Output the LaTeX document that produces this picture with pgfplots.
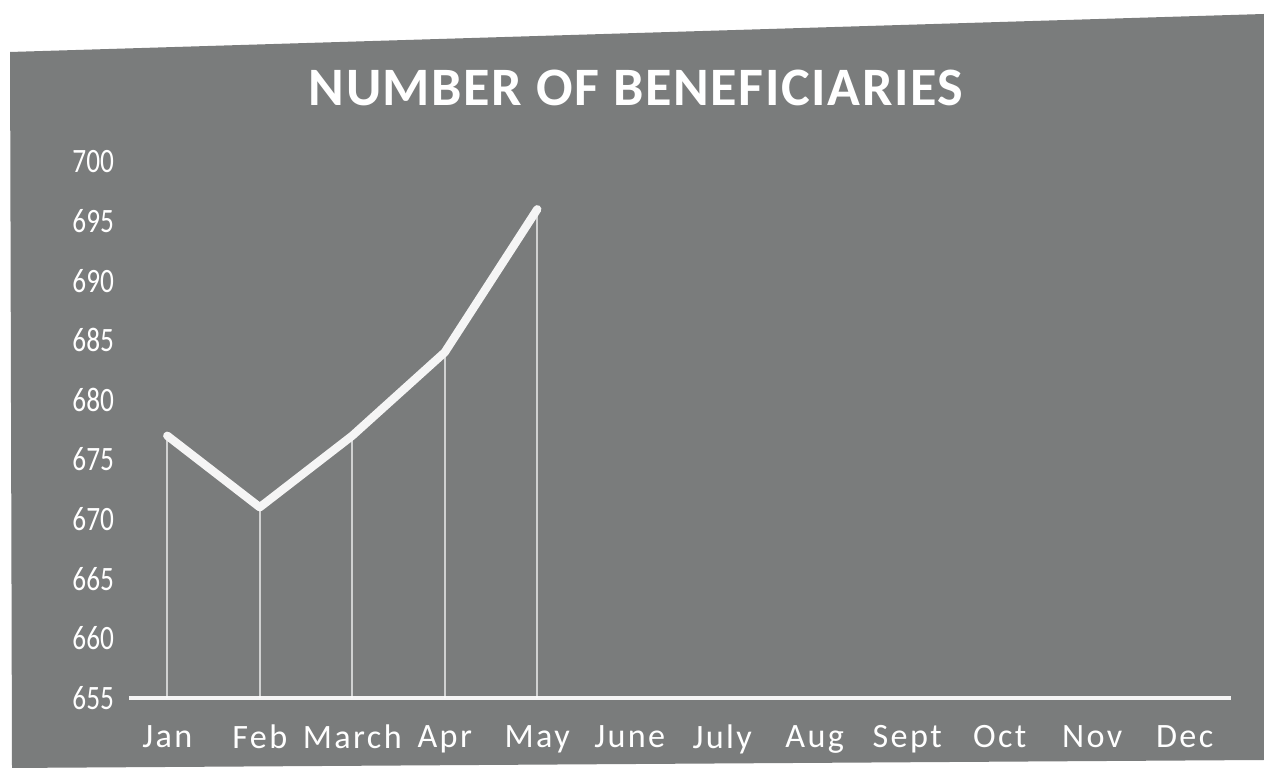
\documentclass[border=0pt]{standalone}
\usepackage{fontspec}
\setmainfont{Carlito}
\usepackage{pgfplots}
\pgfplotsset{compat=1.18}
\definecolor{bg}{RGB}{122,124,124}
\definecolor{ln}{RGB}{245,245,245}
\begin{document}
\begin{tikzpicture}
\path[use as bounding box, fill=white] (0,0) rectangle (16cm,9.848cm);
\fill[bg] (0.127cm,9.19cm) -- (16cm,9.671cm) -- (16cm,0.228cm) -- (0.152cm,0.127cm) -- cycle;
\node[text=white, font={\fontsize{19.5}{22}\selectfont\bfseries\addfontfeature{LetterSpace=3}}] at (8.05cm,8.73cm) {NUMBER OF BENEFICIARIES};
\begin{axis}[
  scale only axis,
  width=14.05cm, height=6.79cm,
  at={(1.532cm,1.013cm)}, anchor=south west,
  xmin=-0.5, xmax=11.5, ymin=655, ymax=700,
  xtick={0,...,11},
  xticklabels={Jan,Feb,March,Apr,May,June,July,Aug,Sept,Oct,Nov,Dec},
  ytick={655,660,...,700},
  /pgf/number format/assume math mode=true,
  yticklabel={\scalebox{0.8}[1]{\pgfmathprintnumber{\tick}}},
  axis x line*=bottom, axis y line*=left,
  y axis line style={draw=none},
  x axis line style={ln, line width=1.5pt, -, shorten <=0.1cm},
  major tick length=0,
  ticklabel style={text=white},
  yticklabel style={font=\fontsize{12.3}{14}\selectfont, xshift=1pt},
  xticklabel style={font=\fontsize{12.3}{14}\selectfont\addfontfeature{LetterSpace=7}, yshift=-0.22cm},
  clip=true,
]
\addplot[ycomb, white, line width=0.6pt, opacity=0.65] coordinates {(0,677) (1,671) (2,677) (3,684) (4,696)};
\addplot[ln, line width=3pt, line join=round, line cap=round] coordinates {(0,677) (1,671) (2,677) (3,684) (4,696)};
\end{axis}
\end{tikzpicture}
\end{document}
